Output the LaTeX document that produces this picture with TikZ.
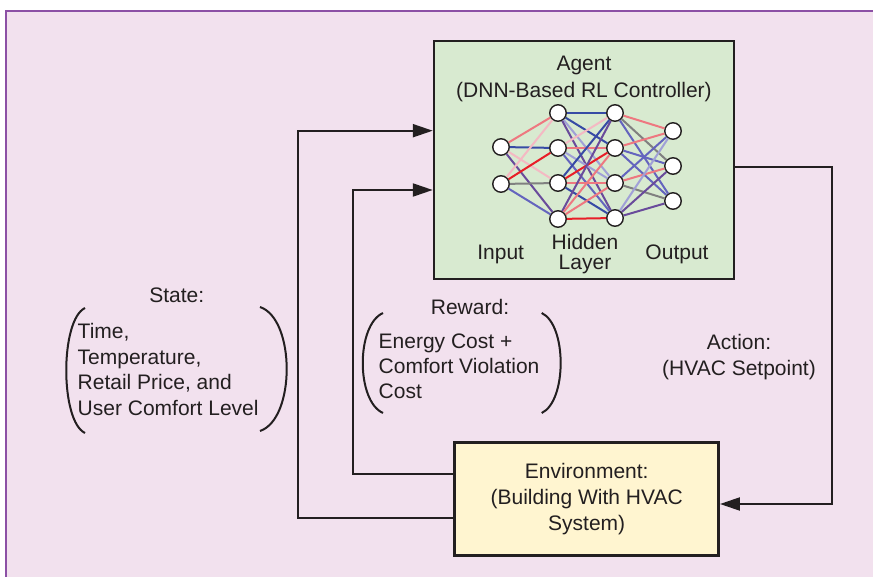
\documentclass[tikz,border=0pt]{standalone}
\usepackage{fontspec}
\setmainfont{Liberation Sans}
\usetikzlibrary{arrows.meta}
\definecolor{bgpink}{RGB}{242,225,238}
\definecolor{framepurple}{RGB}{140,80,165}
\definecolor{agentgreen}{RGB}{216,234,208}
\definecolor{envyellow}{RGB}{255,245,208}
\definecolor{ink}{RGB}{35,31,32}
\definecolor{nnsalmon}{RGB}{238,120,128}
\definecolor{nnpink}{RGB}{244,185,195}
\definecolor{nnred}{RGB}{232,30,40}
\definecolor{nndblue}{RGB}{55,75,165}
\definecolor{nnslate}{RGB}{100,100,190}
\definecolor{nnlav}{RGB}{160,160,215}
\definecolor{nnpurple}{RGB}{105,75,155}
\definecolor{nngray}{RGB}{128,128,128}
\begin{document}
\begin{tikzpicture}[x=1pt,y=-1pt,
  txt/.style={font=\fontsize{21}{25.5}\selectfont, text=ink, inner sep=0pt},
  box/.style={draw=ink, line width=2.5pt, inner sep=0pt},
  neuron/.style={circle, draw=ink, fill=white, line width=1.4pt, minimum size=16.5pt, inner sep=0pt},
  syn/.style={line width=2pt},
  conn/.style={draw=ink, line width=2.2pt},
  arr/.style={conn, -{Triangle[length=20pt,width=13pt]}},
  paren/.style={draw=ink, line width=2pt},
]
\useasboundingbox (0,0) rectangle (873,577);
\fill[bgpink] (5.5,11.5) rectangle (873,577);
\draw[framepurple, line width=2pt] (5.5,577) -- (5.5,11.5) -- (873,11.5);

% boxes
\node[box, fill=agentgreen, minimum width=300pt, minimum height=238pt] (agent) at (584,160) {};
\node[box, txt, fill=envyellow, minimum width=264pt, minimum height=113pt, align=center,
      font=\fontsize{21}{26}\selectfont] (env) at (586.7,499.2)
      {Environment:\\(Building With HVAC\\System)};

% agent labels
\node[txt, align=center, font=\fontsize{21}{26.7}\selectfont] (agentlbl) at (584,78.7) {Agent\\(DNN-Based RL Controller)};
\node[txt, anchor=base] (inlbl) at (500.7,259.2) {Input};
\node[txt, anchor=base] (outlbl) at (677,259.2) {Output};
\node[txt, align=center, font=\fontsize{21}{20}\selectfont] (hidlbl) at (585,254.1) {Hidden\\Layer};

% neurons
\node[neuron] (i1) at (501,147) {};
\node[neuron] (i2) at (501,184) {};
\node[neuron] (ha) at (558,113) {};
\node[neuron] (hb) at (558,148) {};
\node[neuron] (hc) at (558,183) {};
\node[neuron] (hd) at (558,219) {};
\node[neuron] (ga) at (615,113) {};
\node[neuron] (gb) at (615,148) {};
\node[neuron] (gc) at (615,183) {};
\node[neuron] (gd) at (615,218) {};
\node[neuron] (o1) at (673,131) {};
\node[neuron] (o2) at (673,166) {};
\node[neuron] (o3) at (673,201) {};

\foreach \a/\b/\c in {
  i1/ha/nnsalmon, i1/hb/nndblue, i1/hc/nnpink, i1/hd/nnpurple,
  i2/ha/nnpink, i2/hb/nnred, i2/hc/nngray, i2/hd/nnslate,
  ha/ga/nndblue, ha/gb/nndblue, ha/gc/nnlav, ha/gd/nnpurple,
  hb/ga/nnpink, hb/gb/nnsalmon, hb/gc/nnlav, hb/gd/nnslate,
  hc/ga/nndblue, hc/gb/nnred, hc/gc/nnsalmon, hc/gd/nndblue,
  hd/ga/nnpurple, hd/gb/nnsalmon, hd/gc/nnsalmon, hd/gd/nnred,
  ga/o1/nnsalmon, ga/o2/nngray, ga/o3/nnslate,
  gb/o1/nnsalmon, gb/o2/nnslate, gb/o3/nnslate,
  gc/o1/nnslate, gc/o2/nnsalmon, gc/o3/nngray,
  gd/o1/nnlav, gd/o2/nnpurple, gd/o3/nnpurple}
  \draw[syn, draw=\c] (\a) -- (\b);

% connectors
\coordinate (outerBot) at (298.3,518.3);
\coordinate (outerTop) at (298.3,130.7);
\coordinate (innerBot) at (352.7,473.7);
\coordinate (innerTop) at (352.7,190);
\coordinate (actTop) at (832.3,166.7);
\coordinate (actBot) at (832.3,504);
\draw[arr] (env.west |- outerBot) -- (outerBot) -- (outerTop) -- (agent.west |- outerTop);
\draw[arr] (env.west |- innerBot) -- (innerBot) -- (innerTop) -- (agent.west |- innerTop);
\draw[arr] (agent.east |- actTop) -- (actTop) -- (actBot) -- (env.east |- actBot);

% state
\node[txt, anchor=base] (statelbl) at (176.7,302.5) {State:};
\node[txt, align=left, anchor=west] (statetxt) at (77.5,369.7)
  {Time,\\Temperature,\\Retail Price, and\\User Comfort Level};
\draw[paren] (85,308) .. controls (60,320) and (60,421) .. (85,433);
\draw[paren] (260,307) .. controls (295.6,319) and (295.6,419) .. (260,431);

% reward
\node[txt, anchor=base] (rewlbl) at (470,314.2) {Reward:};
\node[txt, align=left, anchor=west, font=\fontsize{21}{24.7}\selectfont] (rewtxt) at (378.5,366.3)
  {Energy Cost +\\Comfort Violation\\Cost};
\draw[paren] (383,313) .. controls (356,325) and (356,401) .. (383,413);
\draw[paren] (541.7,313) .. controls (567,325) and (567,401) .. (541.7,413);

% action
\node[txt, align=center, font=\fontsize{21}{26}\selectfont] (actlbl) at (739,356.8) {Action:\\(HVAC Setpoint)};
\end{tikzpicture}
\end{document}
